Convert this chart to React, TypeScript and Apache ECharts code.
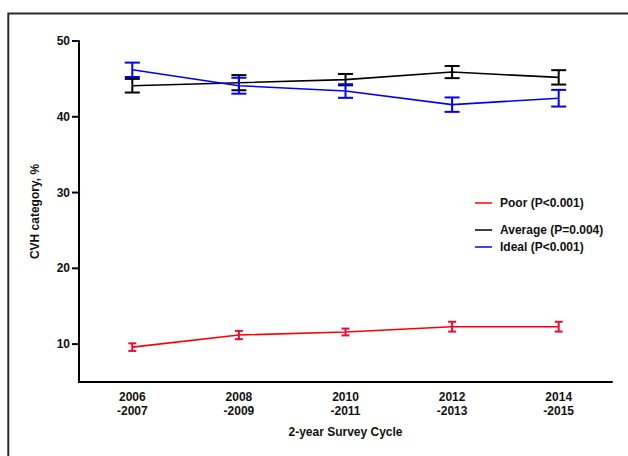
import React, { useEffect, useRef } from "react";
import * as echarts from "echarts";

const categories = ["2006\n-2007", "2008\n-2009", "2010\n-2011", "2012\n-2013", "2014\n-2015"];
const yTicks = [10, 20, 30, 40, 50];

const poorMean = [9.6, 11.2, 11.6, 12.3, 12.3];
const poorErr = [0.5, 0.55, 0.45, 0.65, 0.65];
const averageMean = [44.1, 44.5, 44.9, 45.9, 45.2];
const averageErr = [0.9, 1.0, 0.75, 0.8, 0.95];
const idealMean = [46.2, 44.1, 43.4, 41.6, 42.45];
const idealErr = [0.95, 1.05, 0.9, 0.95, 1.1];

const legendNames = ["Poor (P<0.001)", "Average (P=0.004)", "Ideal (P<0.001)"];
const FONT = "Liberation Sans, Arial, sans-serif";

function errorSeries(mean: number[], err: number[], color: string, capHalf: number) {
  return {
    type: "custom",
    silent: true,
    data: mean.map((m, i) => [i, m - err[i], m + err[i]]),
    renderItem: (params: any, api: any) => {
      const x = api.value(0);
      const lo = api.coord([x, api.value(1)]);
      const hi = api.coord([x, api.value(2)]);
      const style = { stroke: color, lineWidth: 2 };
      return {
        type: "group",
        children: [
          { type: "line", shape: { x1: lo[0], y1: lo[1], x2: hi[0], y2: hi[1] }, style },
          { type: "line", shape: { x1: lo[0] - capHalf, y1: lo[1], x2: lo[0] + capHalf, y2: lo[1] }, style },
          { type: "line", shape: { x1: hi[0] - capHalf, y1: hi[1], x2: hi[0] + capHalf, y2: hi[1] }, style },
        ],
      };
    },
    z: 3,
  };
}

function lineSeries(name: string, data: number[], color: string) {
  return {
    name,
    type: "line",
    data,
    showSymbol: false,
    symbol: "none",
    lineStyle: { color, width: 1.6 },
    itemStyle: { color },
    z: 2,
  };
}

const yTickSeries = {
  type: "custom",
  silent: true,
  clip: false,
  data: yTicks.map((v) => [0, v]),
  renderItem: (params: any, api: any) => {
    const p = api.coord([0, api.value(1)]);
    const x0 = params.coordSys.x;
    return {
      type: "line",
      shape: { x1: x0 - 7, y1: p[1], x2: x0, y2: p[1] },
      style: { stroke: "#000", lineWidth: 2 },
    };
  },
  z: 4,
};

export default function App() {
  const ref = useRef<HTMLDivElement>(null);
  useEffect(() => {
    if (!ref.current) return;
    const chart = echarts.init(ref.current, null, { renderer: "svg" });
    const legendColors = ["#ff0000", "#000000", "#0000ff"];
    const legendY = [203, 230, 247];
    const legendGraphics: any[] = [];
    legendNames.forEach((n, i) => {
      legendGraphics.push({
        type: "line",
        shape: { x1: 475, y1: legendY[i], x2: 492, y2: legendY[i] },
        style: { stroke: legendColors[i], lineWidth: 1.5 },
      });
      legendGraphics.push({
        type: "text",
        x: 500,
        y: legendY[i],
        style: {
          text: n,
          font: `bold 12px ${FONT}`,
          fill: "#111",
          textVerticalAlign: "middle",
          verticalAlign: "middle",
        },
      });
    });
    chart.setOption({
      animation: false,
      backgroundColor: "#ffffff",
      grid: { left: 79, right: 16, top: 41, bottom: 74, containLabel: false },
      graphic: [
        {
          type: "rect",
          shape: { x: 8.3, y: 13.5, width: 700, height: 600 },
          style: { fill: "none", stroke: "#2b2b2b", lineWidth: 2 },
          silent: true,
        },
        ...legendGraphics,
      ],
      xAxis: {
        type: "category",
        data: categories,
        boundaryGap: true,
        name: "2-year Survey Cycle",
        nameLocation: "middle",
        nameGap: 44,
        nameTextStyle: { fontFamily: FONT, fontWeight: "bold", fontSize: 12, color: "#111" },
        axisLine: { lineStyle: { color: "#000", width: 2 } },
        axisTick: { alignWithLabel: true, inside: false, length: 6, lineStyle: { color: "#000", width: 2 } },
        axisLabel: {
          fontFamily: FONT,
          fontWeight: "bold",
          fontSize: 12,
          color: "#111",
          lineHeight: 14,
          margin: 8,
        },
        splitLine: { show: false },
      },
      yAxis: {
        type: "value",
        min: 5,
        max: 50,
        name: "CVH category, %",
        nameLocation: "middle",
        nameGap: 38,
        nameTextStyle: { fontFamily: FONT, fontWeight: "bold", fontSize: 12, color: "#111" },
        axisLine: { show: true, lineStyle: { color: "#000", width: 2 } },
        axisTick: { show: false },
        axisLabel: {
          customValues: yTicks,
          fontFamily: FONT,
          fontWeight: "bold",
          fontSize: 12,
          color: "#111",
          margin: 9,
        },
        splitLine: { show: false },
      },
      series: [
        lineSeries(legendNames[1], averageMean, "#000000"),
        lineSeries(legendNames[2], idealMean, "#0000ff"),
        lineSeries(legendNames[0], poorMean, "#ff0000"),
        errorSeries(averageMean, averageErr, "#000000", 7.5),
        errorSeries(idealMean, idealErr, "#0000ff", 7.5),
        errorSeries(poorMean, poorErr, "#ee0a36", 4),
        yTickSeries,
      ],
    });
    return () => chart.dispose();
  }, []);
  return (
    <div
      ref={ref}
      style={{ position: "fixed", left: 0, top: 0, width: 628, height: 456, background: "#fff" }}
    />
  );
}
